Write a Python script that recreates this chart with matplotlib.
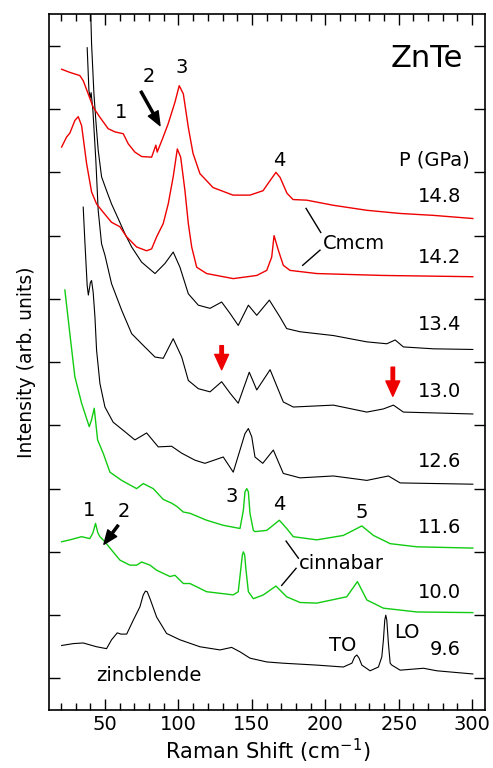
import numpy as np
import matplotlib
matplotlib.use('Agg')
import matplotlib.pyplot as plt

# Raman spectra of ZnTe, offset vertically (arb. units)
x_148 = [20.4, 26.0, 32.8, 35.1, 38.5, 41.9, 46.5, 52.1, 56.7, 62.4, 65.8, 70.3, 74.9, 81.7, 84.6, 85.5,
         89.6, 93.0, 97.6, 100.5, 103.3, 106.7, 109.9, 114.6, 123.5, 137.1, 148.7, 157.6, 162.4, 166.4,
         169.2, 173.9, 178.0, 187.4, 205.3, 228.3, 251.0, 273.5, 300.5]
y_148 = [10.13, 10.08, 10.03, 9.95, 9.74, 9.53, 9.37, 9.19, 9.14, 9.11, 8.95, 8.82, 8.75, 8.74, 8.93, 8.82,
         9.06, 9.27, 9.61, 9.87, 9.74, 9.21, 8.80, 8.48, 8.26, 8.14, 8.14, 8.21, 8.37, 8.50,
         8.42, 8.17, 8.07, 8.06, 7.98, 7.90, 7.85, 7.82, 7.77]

x_142 = [20.4, 23.8, 26.0, 29.4, 31.7, 34.0, 37.4, 40.8, 44.2, 48.7, 54.4, 60.1, 64.7, 71.5, 78.3, 81.7,
         85.1, 89.6, 93.0, 96.4, 99.2, 101.5, 104.4, 106.7, 109.0, 112.4, 119.2, 137.3, 153.3, 160.1,
         163.5, 165.1, 168.0, 171.4, 176.0, 194.2, 239.4, 300.5]
y_142 = [8.90, 9.06, 9.12, 9.32, 9.38, 9.24, 8.64, 8.19, 8.00, 7.87, 7.71, 7.64, 7.48, 7.32, 7.26, 7.29,
         7.48, 7.69, 8.00, 8.43, 8.87, 8.74, 8.21, 7.69, 7.32, 7.00, 6.90, 6.82, 6.87, 6.95,
         7.16, 7.50, 7.27, 7.03, 6.95, 6.90, 6.87, 6.85]

x_134 = [40.0, 40.8, 42.4, 43.7, 45.3, 47.6, 51.0, 54.4, 58.9, 63.5, 68.1, 74.9, 84.0, 90.8, 96.4, 101.0,
         106.7, 113.5, 121.5, 129.4, 135.1, 140.7, 147.6, 153.3, 161.9, 169.2, 173.7, 182.8, 205.5, 228.3,
         241.9, 247.6, 253.2, 273.7, 300.5]
y_134 = [11.22, 10.53, 9.74, 9.32, 8.85, 8.43, 8.21, 8.00, 7.77, 7.53, 7.32, 7.08, 6.90, 7.06, 7.24, 7.00,
         6.58, 6.40, 6.35, 6.45, 6.27, 6.08, 6.40, 6.24, 6.48, 6.21, 6.03, 5.98, 5.92, 5.82,
         5.79, 5.85, 5.74, 5.71, 5.70]

x_130 = [37.8, 39.0, 39.9, 40.5, 41.7, 43.7, 45.3, 47.6, 49.9, 54.4, 61.3, 68.1, 74.9, 84.0, 89.6, 96.4,
         102.2, 106.7, 113.5, 121.5, 129.4, 135.1, 140.7, 145.3, 148.2, 150.8, 153.3, 162.4, 171.4, 178.2,
         205.5, 228.3, 239.6, 246.4, 253.2, 300.5]
y_130 = [10.47, 9.79, 9.68, 9.76, 9.48, 8.69, 7.90, 7.37, 7.19, 6.74, 6.32, 5.95, 5.79, 5.58, 5.56, 5.87,
         5.58, 5.21, 5.08, 5.03, 5.19, 5.01, 4.85, 5.15, 5.34, 5.20, 5.06, 5.38, 4.87, 4.79,
         4.82, 4.71, 4.76, 4.82, 4.71, 4.68]

x_126 = [35.1, 36.2, 37.8, 38.6, 40.0, 40.8, 41.9, 43.1, 44.2, 46.5, 49.9, 55.5, 63.5, 70.3, 78.3, 86.2,
         95.3, 102.2, 111.2, 118.0, 130.5, 137.3, 141.9, 145.3, 147.6, 149.9, 152.1, 157.4, 164.6, 171.4,
         182.8, 205.5, 228.3, 243.0, 251.0, 300.5]
y_126 = [7.95, 7.42, 6.71, 6.56, 6.76, 6.79, 6.60, 6.21, 5.69, 5.16, 4.79, 4.55, 4.40, 4.27, 4.38, 4.16,
         4.17, 4.06, 3.95, 3.90, 4.00, 3.76, 4.11, 4.37, 4.45, 4.32, 4.00, 3.90, 4.11, 3.74,
         3.67, 3.70, 3.63, 3.70, 3.59, 3.57]

x_116 = [22.6, 26.0, 29.4, 34.0, 39.2, 40.7, 42.6, 44.9, 48.7, 53.3, 61.3, 71.5, 76.0, 82.8, 89.6, 95.3,
         98.8, 103.3, 107.8, 119.2, 130.5, 141.9, 144.2, 145.3, 146.5, 147.6, 148.7, 151.0, 152.1, 160.1,
         168.7, 173.7, 178.2, 194.2, 212.3, 224.9, 232.8, 244.2, 262.4, 300.5]
y_116 = [6.64, 5.95, 5.27, 4.85, 4.48, 4.58, 4.77, 4.27, 4.06, 3.76, 3.63, 3.50, 3.58, 3.50, 3.33, 3.27,
         3.22, 3.13, 3.11, 3.00, 2.92, 2.87, 3.16, 3.45, 3.50, 3.45, 3.11, 2.84, 2.82, 2.84,
         3.00, 2.87, 2.74, 2.69, 2.76, 2.91, 2.76, 2.63, 2.58, 2.56]

x_100 = [20.4, 26.0, 34.0, 39.6, 41.7, 43.5, 45.1, 46.5, 49.9, 54.4, 60.1, 66.9, 71.5, 74.9, 80.6, 85.1,
         94.2, 97.6, 103.3, 107.8, 119.2, 137.3, 140.7, 142.6, 143.5, 144.2, 145.1, 146.0, 147.6, 151.0,
         157.8, 166.4, 173.7, 182.8, 194.2, 214.6, 221.9, 228.3, 239.6, 262.4, 300.5]
y_100 = [2.66, 2.69, 2.74, 2.71, 2.80, 2.95, 2.80, 2.74, 2.66, 2.53, 2.37, 2.29, 2.29, 2.34, 2.29, 2.21,
         2.11, 2.13, 2.00, 2.00, 1.87, 1.82, 1.87, 2.26, 2.45, 2.50, 2.45, 2.21, 1.87, 1.76,
         1.82, 1.96, 1.79, 1.70, 1.69, 1.79, 2.03, 1.74, 1.61, 1.55, 1.54]

x_96 = [20.4, 28.3, 35.1, 44.2, 51.0, 54.4, 58.3, 60.8, 64.7, 69.2, 73.7, 76.0, 77.5, 78.7, 80.6, 85.1,
        91.9, 101.0, 114.6, 128.3, 136.2, 141.9, 148.7, 160.1, 171.4, 194.2, 212.3, 218.1, 220.0, 221.5,
        223.0, 224.9, 230.5, 236.2, 238.5, 239.6, 240.5, 241.2, 241.9, 243.0, 244.2, 245.3, 251.0, 266.9,
        276.0, 300.5]
y_96 = [1.02, 1.05, 1.06, 1.00, 0.97, 1.11, 1.22, 1.20, 1.20, 1.42, 1.63, 1.82, 1.88, 1.87, 1.76, 1.47,
        1.21, 1.11, 1.00, 0.95, 0.99, 0.92, 0.82, 0.76, 0.74, 0.71, 0.68, 0.74, 0.84, 0.87,
        0.82, 0.71, 0.62, 0.68, 0.84, 1.11, 1.42, 1.50, 1.42, 1.05, 0.74, 0.71, 0.63, 0.66,
        0.62, 0.57]

pressures = ['14.8', '14.2', '13.4', '13.0', '12.6', '11.6', '10.0', '9.6']
label_y = [8.12, 7.15, 6.09, 5.04, 3.93, 2.89, 1.85, 0.96]

RED = '#ee0000'
GREEN = '#11cc11'

fig = plt.figure(figsize=(4.93, 7.68), dpi=100)
ax = fig.add_axes([0.1, 0.0755, 0.8844, 0.906])

ax.plot(x_96, y_96, color='k', lw=0.8)
ax.plot(x_100, y_100, color=GREEN, lw=1.0)
ax.plot(x_116, y_116, color=GREEN, lw=1.0)
ax.plot(x_126, y_126, color='k', lw=0.8)
ax.plot(x_130, y_130, color='k', lw=0.8)
ax.plot(x_134, y_134, color='k', lw=0.8)
ax.plot(x_142, y_142, color=RED, lw=1.0)
ax.plot(x_148, y_148, color=RED, lw=1.0)

ax.set_xlim(12, 309)
ax.set_ylim(0, 11)
ax.set_xticks([50, 100, 150, 200, 250, 300])
ax.set_xticks(np.arange(20, 310, 10), minor=True)
ax.set_yticks(np.arange(0.5, 11, 1))
ax.set_yticklabels([])
ax.tick_params(which='both', direction='in', top=True, right=True, width=1)
ax.tick_params(which='major', length=8, labelsize=14)
ax.tick_params(which='minor', length=5)
for s in ax.spines.values():
    s.set_linewidth(1.2)

ax.set_xlabel('Raman Shift (cm$^{-1}$)', fontsize=15, labelpad=2)
ax.set_ylabel('Intensity (arb. units)', fontsize=13.5, labelpad=6)

fs = 14
ax.text(294, 10.3, 'ZnTe', fontsize=22, ha='right', va='center')
ax.text(298.5, 8.69, 'P (GPa)', fontsize=fs, ha='right', va='center')
for p, yy in zip(pressures, label_y):
    ax.text(292.5, yy, p, fontsize=fs, ha='right', va='center')

# Cmcm peak labels
ax.text(61.1, 9.45, '1', fontsize=fs, ha='center', va='center')
ax.text(79.9, 10.02, '2', fontsize=fs, ha='center', va='center')
ax.text(102.4, 10.16, '3', fontsize=fs, ha='center', va='center')
ax.text(168.5, 8.69, '4', fontsize=fs, ha='center', va='center')
ax.annotate('', xy=(87.4, 9.24), xytext=(74.4, 9.78),
            arrowprops=dict(facecolor='k', edgecolor='k', width=1.5, headwidth=8, headlength=10))
ax.text(198.5, 7.38, 'Cmcm', fontsize=fs, ha='left', va='center')
ax.plot([186.9, 196.9], [7.93, 7.55], color='k', lw=1)
ax.plot([196.4, 184.6], [7.27, 7.03], color='k', lw=1)

# red arrows
ax.annotate('', xy=(129.4, 5.38), xytext=(129.4, 5.76),
            arrowprops=dict(facecolor=RED, edgecolor=RED, width=2.5, headwidth=10, headlength=11))
ax.annotate('', xy=(246.0, 4.96), xytext=(246.0, 5.42),
            arrowprops=dict(facecolor=RED, edgecolor=RED, width=2.5, headwidth=10, headlength=11))

# cinnabar peak labels
ax.text(39.0, 3.16, '1', fontsize=fs, ha='center', va='center')
ax.text(62.8, 3.14, '2', fontsize=fs, ha='center', va='center')
ax.annotate('', xy=(49.2, 2.62), xytext=(58.9, 2.92),
            arrowprops=dict(facecolor='k', edgecolor='k', width=1.5, headwidth=8, headlength=10))
ax.text(136.5, 3.37, '3', fontsize=fs, ha='center', va='center')
ax.text(168.9, 3.25, '4', fontsize=fs, ha='center', va='center')
ax.text(224.9, 3.12, '5', fontsize=fs, ha='center', va='center')
ax.text(182.3, 2.32, 'cinnabar', fontsize=fs, ha='left', va='center')
ax.plot([173.3, 181.7], [2.67, 2.40], color='k', lw=1)
ax.plot([180.1, 170.3], [2.24, 1.97], color='k', lw=1)

ax.text(212.0, 1.02, 'TO', fontsize=fs, ha='center', va='center')
ax.text(255.7, 1.22, 'LO', fontsize=fs, ha='center', va='center')
ax.text(80.0, 0.55, 'zincblende', fontsize=fs, ha='center', va='center')

plt.savefig('out.png', dpi=100)
